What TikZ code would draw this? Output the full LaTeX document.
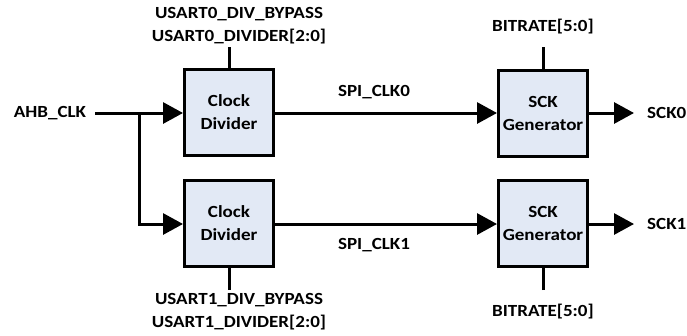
\documentclass[tikz,border=0pt]{standalone}
\usepackage{fontspec}
\setmainfont{Carlito}[FakeStretch=1.12]
\usetikzlibrary{arrows.meta}
\definecolor{boxfill}{HTML}{E2E9F5}
\tikzset{
  blk/.style={draw=black, line width=3pt, fill=boxfill, minimum width=89pt, minimum height=86pt, inner sep=0pt, align=center, font=\bfseries\fontsize{17}{23}\selectfont},
  lbl/.style={inner sep=0pt, align=center, font=\bfseries\fontsize{17}{23}\selectfont},
  wire/.style={line width=3pt},
  sig/.style={wire, -{Triangle[length=20pt,width=21pt]}},
}
\begin{document}
\begin{tikzpicture}[x=1pt,y=-1pt]
\useasboundingbox (0,0) rectangle (687,335);
\node[blk] (cd0) at (229,112) {Clock\\Divider};
\node[blk] (cd1) at (229,223) {Clock\\Divider};
\node[blk] (sg0) at (543,113) {SCK\\Generator};
\node[blk] (sg1) at (543,223) {SCK\\Generator};
\node[lbl] (ahb) at (50,113) {AHB\_CLK};
\node[lbl] (u0) at (239,26) {USART0\_DIV\_BYPASS\\USART0\_DIVIDER[2:0]};
\node[lbl] (u1) at (239,312) {USART1\_DIV\_BYPASS\\USART1\_DIVIDER[2:0]};
\node[lbl] (b0) at (543,27) {BITRATE[5:0]};
\node[lbl] (b1) at (543,312) {BITRATE[5:0]};
\node[lbl] (s0) at (374,92) {SPI\_CLK0};
\node[lbl] (s1) at (374,245) {SPI\_CLK1};
\node[lbl, anchor=west] (o0) at (647,113) {SCK0};
\node[lbl, anchor=west] (o1) at (647,224) {SCK1};
\coordinate (br) at (139,113);
\coordinate (t0) at (229,47);
\coordinate (t1) at (229,290);
\coordinate (tb0) at (543,47);
\coordinate (tb1) at (543,290);
\coordinate (e0) at (634,113);
\coordinate (e1) at (634,224);
\coordinate (st) at (95,113);
\draw[sig] (st) -- (cd0.west |- br);
\draw[sig] (br) |- (cd1.west |- e1);
\draw[sig] (cd0.east |- br) -- (sg0.west |- br);
\draw[sig] (cd1.east |- e1) -- (sg1.west |- e1);
\draw[sig] (sg0.east |- e0) -- (e0);
\draw[sig] (sg1.east |- e1) -- (e1);
\draw[wire] (t0) -- (cd0.north);
\draw[wire] (t1) -- (cd1.south);
\draw[wire] (tb0) -- (sg0.north);
\draw[wire] (tb1) -- (sg1.south);
\end{tikzpicture}
\end{document}
